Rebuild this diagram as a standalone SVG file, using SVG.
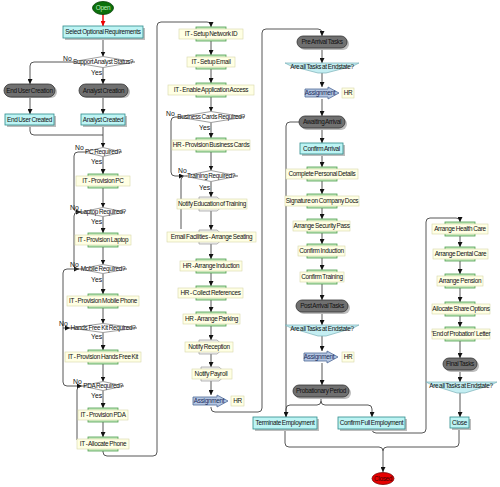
<svg xmlns="http://www.w3.org/2000/svg" width="500" height="487" viewBox="0 0 500 487">
<defs>
<marker id="ar" viewBox="0 0 10 10" refX="10" refY="5" markerWidth="5" markerHeight="5" orient="auto" markerUnits="userSpaceOnUse"><path d="M0,0 L10,5 L0,10 z" fill="#111"/></marker>
<marker id="arr" viewBox="0 0 10 10" refX="10" refY="5" markerWidth="5" markerHeight="5" orient="auto" markerUnits="userSpaceOnUse"><path d="M0,0 L10,5 L0,10 z" fill="#e00"/></marker>
<style>
text{font-family:"Liberation Sans",Arial,sans-serif;font-size:6.4px;letter-spacing:-0.3px;word-spacing:-0.6px;fill:#111;text-anchor:middle}
.lb{font-size:6.8px;letter-spacing:0;text-anchor:start;fill:#111}
.ln{fill:none;stroke:#444;stroke-width:0.9}
.ln.a{marker-end:url(#ar)}
.red{fill:none;stroke:#e00;stroke-width:1.4;marker-end:url(#arr)}
.cy{fill:#bdf4f4;stroke:#2e8b8b;stroke-width:0.8}
.sh{fill:#bdbdbd}
.pl{fill:#707070;stroke:#333;stroke-width:0.8}
.tl{fill:#ffffe4;stroke:#d8d8a8;stroke-width:0.6}
.gb{fill:#c6ecc0;stroke:#4f9f4f;stroke-width:0.8}
.dc{fill:#fff;stroke:#888;stroke-width:0.8}
.nt{fill:#f2f2f2;stroke:#999;stroke-width:0.7}
.es{fill:#c4eef2;stroke:#7ab0b8;stroke-width:0.7}
.as{fill:#b4c6e2;stroke:#4f6a98;stroke-width:0.8}
.ast{fill:#1a2a5a}
</style>
</defs>
<rect width="500" height="487" fill="#fff"/>

<g id="connectors">
<path class="red" d="M103,14 L103,26"/>
<path class="ln a" d="M103,38 L103,56.5"/>
<path class="ln a" d="M103,67.5 L103,84"/>
<path class="ln a" d="M71,62 L34,62 Q30,62 30,66 L30,84"/>
<path class="ln a" d="M30,97 L30,114"/>
<path class="ln a" d="M103,97 L103,114"/>
<path class="ln" d="M30,125 L30,131 Q30,135 34,135 L103,135"/>
<path class="ln a" d="M103,125 L103,147.5"/>
<path class="ln a" d="M103,156.5 L103,174"/>
<path class="ln a" d="M84,152 L78,152 Q74,152 74,156 L74,208 Q74,212 78,212 L81,212"/>
<path class="ln a" d="M103,188 L103,207.5"/>
<path class="ln a" d="M103,216.5 L103,233"/>
<path class="ln a" d="M81,212 L78,212 Q74,212 74,216 L74,265 Q74,269 77,269 L79,269"/>
<path class="ln a" d="M103,247 L103,264.5"/>
<path class="ln a" d="M103,273.5 L103,294"/>
<path class="ln a" d="M79,269 L67,269 Q63,269 63,273 L63,382 Q63,386 67,386 L82,386"/>
<path class="ln a" d="M103,308 L103,323.5"/>
<path class="ln a" d="M103,332.5 L103,350"/>
<path class="ln a" d="M63,328 L70,328"/>
<path class="ln a" d="M103,364 L103,381.5"/>
<path class="ln a" d="M103,390.5 L103,408"/>
<path class="ln" d="M80,387 Q77,387 77,390 L77,440"/>
<path class="ln a" d="M103,422 L103,437"/>
<path class="ln a" d="M103,451 L103,452 Q103,456 107,456 L153,456 Q157,456 157,452 L157,26 Q157,22 161,22 L207,22 Q211,22 211,25 L211,27"/>
<path class="ln a" d="M211,41 L211,55"/>
<path class="ln a" d="M211,69 L211,83"/>
<path class="ln a" d="M211,97 L211,111.5"/>
<path class="ln a" d="M211,122.5 L211,138"/>
<path class="ln a" d="M178,117 L175,117 Q171,117 171,121 L171,172 Q171,176 175,176 L184,176"/>
<path class="ln a" d="M211,152 L211,170.5"/>
<path class="ln a" d="M211,181.5 L211,197"/>
<path class="ln" d="M183,177 Q181,177 181,180 L181,229"/>
<path class="ln a" d="M211,209 L211,230"/>
<path class="ln a" d="M211,242 L211,259"/>
<path class="ln a" d="M211,273 L211,286"/>
<path class="ln a" d="M211,300 L211,312"/>
<path class="ln a" d="M211,326 L211,340"/>
<path class="ln a" d="M211,352 L211,367"/>
<path class="ln a" d="M211,379 L211,395"/>
<path class="ln a" d="M211,407 L211,408 Q211,412 215,412 L258,412 Q262,412 262,408 L262,33 Q262,29 266,29 L318,29 Q322,29 322,33 L322,36"/>
<path class="ln a" d="M322,48 L322,63"/>
<path class="ln a" d="M322,73 L322,87"/>
<path class="ln a" d="M322,99 L322,116"/>
<path class="ln" d="M299,122 L290,122 Q286,122 286,126 L286,417"/>
<path class="ln a" d="M322,128 L322,143"/>
<path class="ln a" d="M322,154 L322,167"/>
<path class="ln a" d="M322,181 L322,194"/>
<path class="ln a" d="M322,208 L322,219"/>
<path class="ln a" d="M322,233 L322,244"/>
<path class="ln a" d="M322,258 L322,270"/>
<path class="ln a" d="M322,284 L322,300"/>
<path class="ln a" d="M322,312 L322,325"/>
<path class="ln a" d="M322,336 L322,351"/>
<path class="ln a" d="M322,363 L322,385"/>
<path class="ln a" d="M321,397 L321,401 Q321,405 317,405 L290,405 Q286,405 286,409 L286,417"/>
<path class="ln a" d="M321,401 Q321,405 325,405 L368,405 Q372,405 372,409 L372,417"/>
<path class="ln a" d="M285,429 L285,443 Q285,447 289,447 L379,447 Q383,447 383,451 L383,472"/>
<path class="ln" d="M459,428 L459,443 Q459,447 455,447 L387,447 Q383,447 383,451"/>
<path class="ln a" d="M372,429 Q372,433 376,433 L422,433 Q426,433 426,429 L426,222 Q426,218 430,218 L456,218 Q460,218 460,221 L460,222"/>
<path class="ln a" d="M460,236 L460,247"/>
<path class="ln a" d="M460,261 L460,274"/>
<path class="ln a" d="M460,288 L460,302"/>
<path class="ln a" d="M460,316 L460,327"/>
<path class="ln a" d="M460,341 L460,358"/>
<path class="ln a" d="M460,370 L460,382"/>
<path class="ln a" d="M460,393 L460,417"/>
</g>

<g id="labels">
<text class="lb" x="63" y="61">No</text>
<text class="lb" x="91" y="75">Yes</text>
<text class="lb" x="75" y="150">No</text>
<text class="lb" x="91" y="164">Yes</text>
<text class="lb" x="70" y="210">No</text>
<text class="lb" x="91" y="224">Yes</text>
<text class="lb" x="70" y="267">No</text>
<text class="lb" x="91" y="282">Yes</text>
<text class="lb" x="59" y="326">No</text>
<text class="lb" x="91" y="339">Yes</text>
<text class="lb" x="73" y="384">No</text>
<text class="lb" x="91" y="398">Yes</text>
<text class="lb" x="166" y="116">No</text>
<text class="lb" x="199" y="130">Yes</text>
<text class="lb" x="178" y="173">No</text>
<text class="lb" x="199" y="190">Yes</text>
</g>

<g id="n_open"><ellipse cx="103" cy="8" rx="10.5" ry="6.5" fill="#0b700b" stroke="#043d04" stroke-width="0.8"/><text x="103" y="10.2" style="fill:#bfeebf">Open</text></g>
<g id="n_select"><rect class="sh" x="65" y="28" width="80" height="12"/><rect class="cy" x="63" y="26" width="80" height="12"/><text x="103" y="34.2">Select Optional Requirements</text></g>
<g id="n_support"><polygon class="dc" points="71,62 103,56.5 135,62 103,67.5"/><text x="103" y="64.2">Support Analyst Status?</text></g>
<g id="n_euc"><rect class="sh" x="6" y="86" width="51" height="12" rx="6"/><rect class="pl" x="4" y="84" width="51" height="13" rx="6.5"/><text x="29.5" y="92.7">End User Creation</text></g>
<g id="n_ac"><rect class="sh" x="81" y="86" width="49" height="12" rx="6"/><rect class="pl" x="79" y="84" width="49" height="13" rx="6.5"/><text x="103.5" y="92.7">Analyst Creation</text></g>
<g id="n_eud"><rect class="sh" x="7" y="116" width="49" height="11"/><rect class="cy" x="5" y="114" width="49" height="11"/><text x="29.5" y="121.7">End User Created</text></g>
<g id="n_ad"><rect class="sh" x="83" y="116" width="44" height="11"/><rect class="cy" x="81" y="114" width="44" height="11"/><text x="103" y="121.7">Analyst Created</text></g>
<g id="n_pcq"><polygon class="dc" points="84,152 103,147.5 122,152 103,156.5"/><text x="103" y="154.2">PC Required?</text></g>
<g id="n_pc"><rect class="gb" x="88" y="174" width="30" height="14"/><rect class="tl" x="76" y="176" width="54" height="10"/><text x="103" y="183.2">IT - Provision PC</text></g>
<g id="n_lapq"><polygon class="dc" points="81,212 103,207.5 125,212 103,216.5"/><text x="103" y="214.2">Laptop Required?</text></g>
<g id="n_lap"><rect class="gb" x="88" y="233" width="30" height="14"/><rect class="tl" x="75" y="235" width="56" height="10"/><text x="103" y="242.2">IT - Provision Laptop</text></g>
<g id="n_mobq"><polygon class="dc" points="79,269 103,264.5 127,269 103,273.5"/><text x="103" y="271.2">Mobile Required?</text></g>
<g id="n_mob"><rect class="gb" x="88" y="294" width="30" height="14"/><rect class="tl" x="67" y="296" width="72" height="10"/><text x="103" y="303.2">IT - Provision Mobile Phone</text></g>
<g id="n_hfkq"><polygon class="dc" points="70,328 103,323.5 137,328 103,332.5"/><text x="103" y="330.2">Hands Free Kit Required?</text></g>
<g id="n_hfk"><rect class="gb" x="88" y="350" width="30" height="14"/><rect class="tl" x="65" y="352" width="76" height="10"/><text x="103" y="359.2">IT - Provision Hands Free Kit</text></g>
<g id="n_pdaq"><polygon class="dc" points="82,386 103,381.5 124,386 103,390.5"/><text x="103" y="388.2">PDA Required?</text></g>
<g id="n_pda"><rect class="gb" x="88" y="408" width="30" height="14"/><rect class="tl" x="78" y="410" width="50" height="10"/><text x="103" y="417.2">IT - Provision PDA</text></g>
<g id="n_alloc"><rect class="gb" x="88" y="437" width="30" height="14"/><rect class="tl" x="77" y="439" width="52" height="10"/><text x="103" y="446.2">IT - Allocate Phone</text></g>

<g id="n_netid"><rect class="gb" x="196" y="27" width="30" height="14"/><rect class="tl" x="179" y="29" width="64" height="10"/><text x="211" y="36.2">IT - Setup Network ID</text></g>
<g id="n_email"><rect class="gb" x="196" y="55" width="30" height="14"/><rect class="tl" x="187" y="57" width="48" height="10"/><text x="211" y="64.2">IT - Setup Email</text></g>
<g id="n_app"><rect class="gb" x="196" y="83" width="30" height="14"/><rect class="tl" x="168" y="85" width="86" height="10"/><text x="211" y="92.2">IT - Enable Application Access</text></g>
<g id="n_bcq"><polygon class="dc" points="178,117 211,111.5 245,117 211,122.5"/><text x="211" y="119.2">Business Cards Required?</text></g>
<g id="n_bc"><rect class="gb" x="196" y="138" width="30" height="14"/><rect class="tl" x="172" y="140" width="78" height="10"/><text x="211" y="147.2">HR - Provision Business Cards</text></g>
<g id="n_trq"><polygon class="dc" points="184,176 211,170.5 238,176 211,181.5"/><text x="211" y="178.2">Training Required?</text></g>
<g id="n_notedu"><polygon class="nt" points="199,197 217,197 225,204 217,211 199,211"/><rect class="tl" x="177" y="199" width="70" height="10"/><text x="212" y="206.2">Notify Education of Training</text></g>
<g id="n_seat"><polygon class="nt" points="199,230 217,230 225,237 217,244 199,244"/><rect class="tl" x="167" y="232" width="89" height="10"/><text x="211.5" y="239.2">Email Facilities - Arrange Seating</text></g>
<g id="n_ind"><rect class="gb" x="196" y="259" width="30" height="14"/><rect class="tl" x="180" y="261" width="62" height="10"/><text x="211" y="268.2">HR - Arrange Induction</text></g>
<g id="n_ref"><rect class="gb" x="196" y="286" width="30" height="14"/><rect class="tl" x="178" y="288" width="65" height="10"/><text x="210.5" y="295.2">HR - Collect References</text></g>
<g id="n_park"><rect class="gb" x="196" y="312" width="30" height="14"/><rect class="tl" x="183" y="314" width="57" height="10"/><text x="211.5" y="321.2">HR - Arrange Parking</text></g>
<g id="n_rec"><polygon class="nt" points="199,340 217,340 225,347 217,354 199,354"/><rect class="tl" x="185" y="342" width="48" height="10"/><text x="209" y="349.2">Notify Reception</text></g>
<g id="n_pay"><polygon class="nt" points="201,367 219,367 227,374 219,381 201,381"/><rect class="tl" x="192" y="369" width="40" height="10"/><text x="211" y="376.2">Notify Payroll</text></g>
<g id="n_as1"><polygon class="as" points="193,397 217,397 217,395 228,401 217,407 217,405 193,405"/><text class="ast" x="209" y="403.2">Assignment</text><rect class="tl" x="231" y="396" width="13" height="10"/><text x="237.5" y="403.2">HR</text></g>

<g id="n_pre"><rect class="sh" x="299" y="38" width="50" height="12" rx="6"/><rect class="pl" x="297" y="36" width="50" height="12" rx="6"/><text x="322" y="44.2">Pre Arrival Tasks</text></g>
<g id="n_es1"><polygon class="es" points="285,63 359,63 353,66 326,73 318,73 291,66"/><text x="322" y="68.5">Are all Tasks at Endstate?</text></g>
<g id="n_as2"><polygon class="as" points="305,89 328,89 328,87 339,93 328,99 328,97 305,97"/><text class="ast" x="320" y="95.2">Assignment</text><rect class="tl" x="342" y="88" width="12" height="10"/><text x="348" y="95.2">HR</text></g>
<g id="n_await"><rect class="sh" x="301" y="118" width="46" height="12" rx="6"/><rect class="pl" x="299" y="116" width="46" height="12" rx="6"/><text x="322" y="124.2">Awaiting Arrival</text></g>
<g id="n_carr"><rect class="sh" x="302" y="145" width="43" height="11"/><rect class="cy" x="300" y="143" width="43" height="11"/><text x="321.5" y="150.7">Confirm Arrival</text></g>
<g id="n_cpd"><rect class="gb" x="307" y="167" width="30" height="14"/><rect class="tl" x="286" y="169" width="72" height="10"/><text x="322" y="176.2">Complete Personal Details</text></g>
<g id="n_sig"><rect class="gb" x="307" y="194" width="30" height="14"/><rect class="tl" x="285" y="196" width="74" height="10"/><text x="322" y="203.2">Signature on Company Docs</text></g>
<g id="n_sec"><rect class="gb" x="307" y="219" width="30" height="14"/><rect class="tl" x="293" y="221" width="57" height="10"/><text x="321.5" y="228.2">Arrange Security Pass</text></g>
<g id="n_cind"><rect class="gb" x="307" y="244" width="30" height="14"/><rect class="tl" x="298" y="246" width="47" height="10"/><text x="321.5" y="253.2">Confirm Induction</text></g>
<g id="n_ctr"><rect class="gb" x="307" y="270" width="30" height="14"/><rect class="tl" x="300" y="272" width="44" height="10"/><text x="322" y="279.2">Confirm Training</text></g>
<g id="n_post"><rect class="sh" x="298" y="302" width="52" height="12" rx="6"/><rect class="pl" x="296" y="300" width="52" height="12" rx="6"/><text x="322" y="308.2">Post Arrival Tasks</text></g>
<g id="n_es2"><polygon class="es" points="285,325 359,325 353,328 326,336 318,336 291,328"/><text x="322" y="330.5">Are all Tasks at Endstate?</text></g>
<g id="n_as3"><polygon class="as" points="304,353 327,353 327,351 338,357 327,363 327,361 304,361"/><text class="ast" x="319" y="359.2">Assignment</text><rect class="tl" x="342" y="352" width="12" height="10"/><text x="348" y="359.2">HR</text></g>
<g id="n_prob"><rect class="sh" x="295" y="387" width="56" height="12" rx="6"/><rect class="pl" x="293" y="385" width="56" height="12" rx="6"/><text x="321" y="393.2">Probationary Period</text></g>
<g id="n_term"><rect class="sh" x="255" y="419" width="64" height="12"/><rect class="cy" x="253" y="417" width="64" height="12"/><text x="285" y="425.2">Terminate Employment</text></g>
<g id="n_cfe"><rect class="sh" x="340" y="419" width="67" height="12"/><rect class="cy" x="338" y="417" width="67" height="12"/><text x="371.5" y="425.2">Confirm Full Employment</text></g>
<g id="n_closed"><ellipse cx="383" cy="478.5" rx="11" ry="6" fill="#e60000" stroke="#7a0000" stroke-width="0.8"/><text x="383" y="480.7" style="fill:#400">Closed</text></g>

<g id="n_health"><rect class="gb" x="445" y="222" width="30" height="14"/><rect class="tl" x="432" y="224" width="56" height="10"/><text x="460" y="231.2">Arrange Health Care</text></g>
<g id="n_dental"><rect class="gb" x="445" y="247" width="30" height="14"/><rect class="tl" x="433" y="249" width="55" height="10"/><text x="460.5" y="256.2">Arrange Dental Care</text></g>
<g id="n_pension"><rect class="gb" x="445" y="274" width="30" height="14"/><rect class="tl" x="437" y="276" width="46" height="10"/><text x="460" y="283.2">Arrange Pension</text></g>
<g id="n_share"><rect class="gb" x="445" y="302" width="30" height="14"/><rect class="tl" x="432" y="304" width="58" height="10"/><text x="461" y="311.2">Allocate Share Options</text></g>
<g id="n_letter"><rect class="gb" x="445" y="327" width="30" height="14"/><rect class="tl" x="432" y="329" width="58" height="10"/><text x="461" y="336.2">'End of Probation' Letter</text></g>
<g id="n_final"><rect class="sh" x="445" y="360" width="34" height="12" rx="6"/><rect class="pl" x="443" y="358" width="34" height="12" rx="6"/><text x="460" y="366.2">Final Tasks</text></g>
<g id="n_es3"><polygon class="es" points="426,382 497,382 491,385 465,393 457,393 432,385"/><text x="461" y="387.5">Are all Tasks at Endstate?</text></g>
<g id="n_close"><rect class="sh" x="452" y="419" width="19" height="11"/><rect class="cy" x="450" y="417" width="19" height="11"/><text x="459.5" y="424.7">Close</text></g>
</svg>
